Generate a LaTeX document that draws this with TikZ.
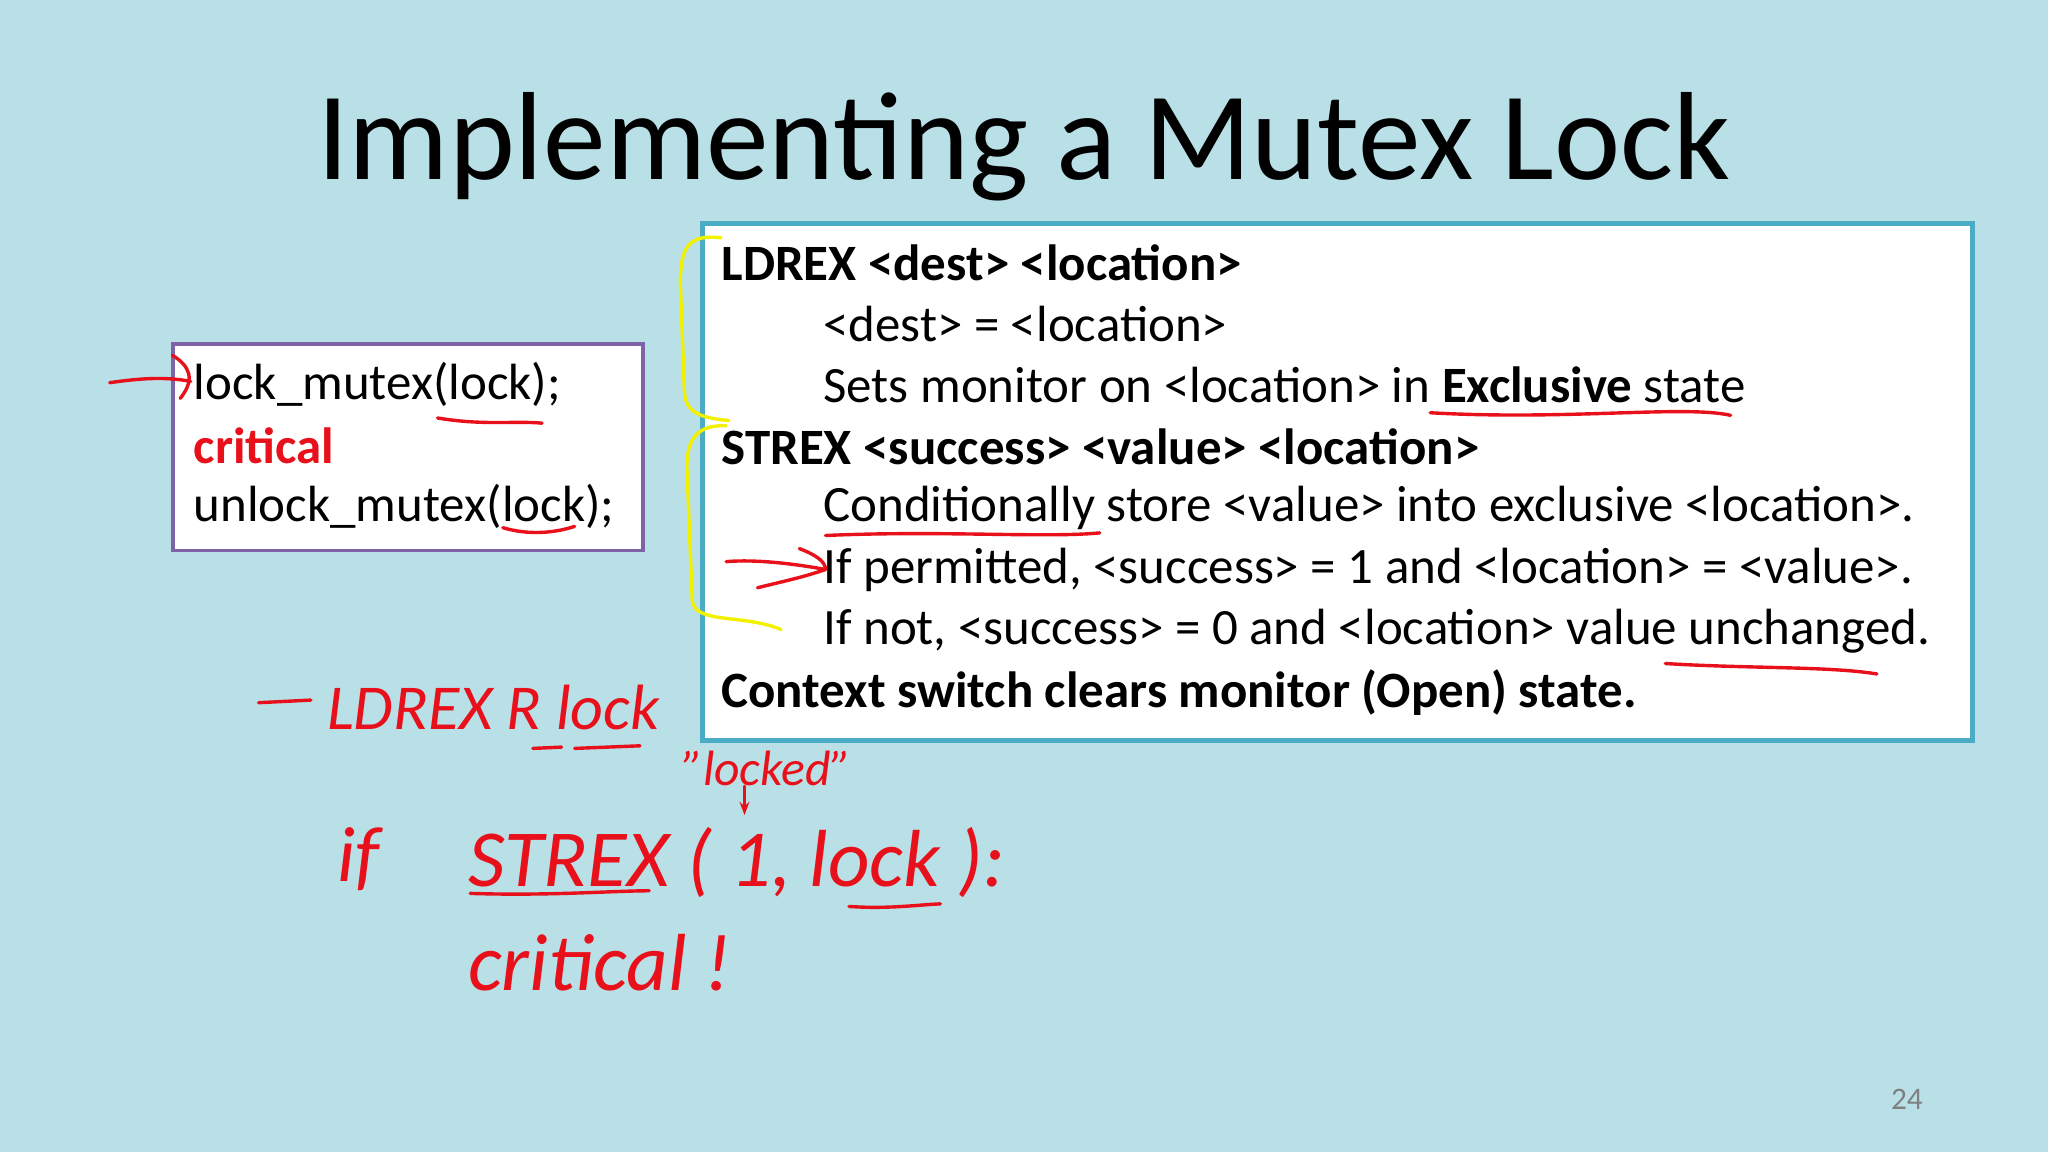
\documentclass[tikz,border=0pt]{standalone}
\usepackage{fontspec}
\setmainfont{Carlito}
\usetikzlibrary{arrows.meta}
\definecolor{bg}{HTML}{B9E0E7}
\definecolor{boxpurple}{HTML}{7F62A8}
\definecolor{boxteal}{HTML}{4BACC6}
\definecolor{ink}{HTML}{E8101A}
\definecolor{hl}{HTML}{F2F200}
\begin{document}
\begin{tikzpicture}[x=0.5pt,y=-0.5pt,
  body/.style={anchor=west,font=\fontsize{19.5}{22}\selectfont,inner sep=0pt},
  hand/.style={ink,anchor=west,inner sep=0pt,font=\fontsize{24.5}{26}\selectfont\itshape},
  pen/.style={ink,line width=1.3pt,line cap=round},
  yellowpen/.style={hl,line width=1.3pt,line cap=round}]
\fill[bg] (0,0) rectangle (1568,882);
\useasboundingbox (0,0) rectangle (1568,882);
\node[font=\fontsize{48}{52}\selectfont] (title) at (784,112) {Implementing a Mutex Lock};
% left box
\node[draw=boxpurple,line width=1.5pt,fill=white,minimum width=180pt,minimum height=79pt,anchor=north west,inner sep=0pt] (lbox) at (131,262) {};
\node[body] (l1) at (148,294) {lock\_mutex(lock);};
\node[body,ink,font=\fontsize{19.5}{22}\selectfont\bfseries] (l2) at (148,341) {critical};
\node[body] (l3) at (148,388) {unlock\_mutex(lock);};
% right box
\node[draw=boxteal,line width=2pt,fill=white,minimum width=486pt,minimum height=198pt,anchor=north west,inner sep=0pt] (rbox) at (536,169) {};
\node[body,font=\fontsize{19.5}{22}\selectfont\bfseries] (r1) at (552,201) {LDREX <dest> <location>};
\node[body] (r2) at (630,248) {<dest> = <location>};
\node[body] (r3) at (630,295) {Sets monitor on <location> in \textbf{Exclusive} state};
\node[body,font=\fontsize{19.5}{22}\selectfont\bfseries] (r4) at (552,342) {STREX <success> <value> <location>};
\node[body] (r5) at (630,389) {Conditionally store <value> into exclusive <location>.};
\node[body] (r6) at (630,436) {If permitted, <success> = 1 and <location> = <value>.};
\node[body] (r7) at (630,483) {If not, <success> = 0 and <location> value unchanged.};
\node[body,font=\fontsize{19.5}{22}\selectfont\bfseries] (r8) at (552,530) {Context switch clears monitor (Open) state.};
\node[gray,font=\fontsize{12}{14}\selectfont] (pg) at (1460,842) {24};
% yellow braces
\draw[yellowpen] (552,182) .. controls (530,180) and (520,185) .. (521,220) -- (524,300) .. controls (525,318) and (540,320) .. (558,322);
\draw[yellowpen] (556,326) .. controls (535,325) and (525,335) .. (526,360) -- (530,460) .. controls (532,478) and (570,470) .. (598,482);
% red handwriting
\node[hand] (h1) at (250,542) {LDREX R lock};
\draw[pen] (198,538) -- (238,536);
\node[hand,font=\fontsize{19}{21}\selectfont\itshape] (h2) at (522,588) {"locked"};
\coordinate (a1) at (570,602); \coordinate (a2) at (570,624);
\draw[pen,-{Stealth[length=5pt]}] (a1) -- (a2);
\node[hand,font=\fontsize{30}{32}\selectfont\itshape] (h3) at (258,658) {if};
\node[hand,font=\fontsize{31}{33}\selectfont\itshape] (h4) at (358,660) {STREX ( 1, lock ):};
\node[hand,font=\fontsize{31}{33}\selectfont\itshape] (h5) at (358,737) {critical  !};
% underlines
\draw[pen] (335,320) .. controls (370,326) and (395,322) .. (415,324);
\draw[pen] (385,404) .. controls (405,410) and (425,408) .. (440,403);
\draw[pen] (1095,316) .. controls (1200,322) and (1290,310) .. (1325,318);
\draw[pen] (632,410) .. controls (720,406) and (800,412) .. (842,408);
\draw[pen] (1275,508) .. controls (1340,512) and (1400,510) .. (1437,516);
\draw[pen] (408,573) -- (430,572);
\draw[pen] (440,573) -- (490,571);
\draw[pen] (360,684) .. controls (420,686) and (470,682) .. (497,682);
\draw[pen] (650,694) .. controls (680,696) and (700,693) .. (720,692);
% red arrows
\coordinate (b1) at (84,293); \coordinate (b2) at (146,292);
\draw[pen] (b1) .. controls (105,290) and (125,288) .. (b2);
\draw[pen] (132,272) .. controls (145,280) and (150,290) .. (138,305);
\coordinate (c1) at (556,430); \coordinate (c2) at (632,436);
\draw[pen] (c1) .. controls (580,428) and (610,432) .. (c2);
\draw[pen] (580,450) .. controls (600,445) and (615,442) .. (c2);
\draw[pen] (612,420) .. controls (625,425) and (632,430) .. (c2);
\end{tikzpicture}
\end{document}
